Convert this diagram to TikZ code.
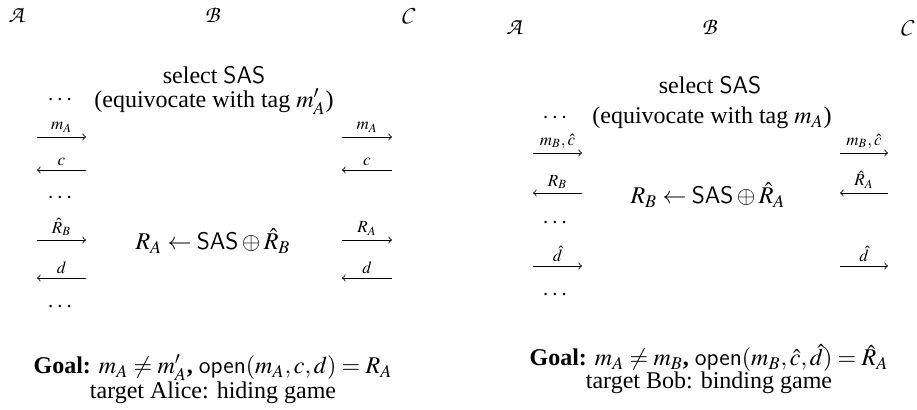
\documentclass[tikz,border=0pt]{standalone}
\usepackage{mathptmx}
\usepackage[scaled=0.92]{helvet}
\usepackage[no-math]{fontspec}
\setmainfont{Liberation Serif}
\DeclareMathAlphabet{\mathcal}{OT1}{pzc}{m}{it}
\begin{document}
\begin{tikzpicture}[x=0.5pt, y=-0.5pt, >=to, font=\large,
  msg/.style={above=1.5pt, font=\fontsize{8.5}{10}\selectfont, inner sep=0.5pt}]
  \useasboundingbox (0,0) rectangle (917,410);
  % hiding game (left)
  \node (A1) at (17,15) {$\mathcal{A}$};
  \node (B1) at (213,15) {$\mathcal{B}$};
  \node (C1) at (408,15) {$\mathcal{C}$};
  \node (sel1) at (214,75) {select $\mathsf{SAS}$};
  \node (eqv1) at (214,102) {(equivocate with tag $m'_A$)};
  \node (dots1a) at (60,100) {$\cdots$};
  \node (dots1b) at (60,198) {$\cdots$};
  \node (dots1c) at (60,307) {$\cdots$};
  \node (res1) at (213,241) {$R_A \leftarrow \mathsf{SAS} \oplus \hat{R}_B$};
  \node (goal1) at (213,368) {\textbf{Goal:} $m_A \neq m'_A$\textbf{,} $\mathsf{open}(m_A,c,d) = R_A$};
  \node (tgt1) at (213,393) {target Alice: hiding game};
  \coordinate (l1a) at (37,137);  \coordinate (l1b) at (86,137);
  \coordinate (l2a) at (37,170);  \coordinate (l2b) at (86,170);
  \coordinate (l3a) at (37,240);  \coordinate (l3b) at (86,240);
  \coordinate (l4a) at (37,278);  \coordinate (l4b) at (86,278);
  \coordinate (r1a) at (342,137); \coordinate (r1b) at (392,137);
  \coordinate (r2a) at (342,170); \coordinate (r2b) at (392,170);
  \coordinate (r3a) at (342,240); \coordinate (r3b) at (392,240);
  \coordinate (r4a) at (342,278); \coordinate (r4b) at (392,278);
  \draw[->] (l1a) -- node[msg] {$m_A$} (l1b);
  \draw[<-] (l2a) -- node[msg] {$c$} (l2b);
  \draw[->] (l3a) -- node[msg] {$\hat{R}_B$} (l3b);
  \draw[<-] (l4a) -- node[msg] {$d$} (l4b);
  \draw[->] (r1a) -- node[msg] {$m_A$} (r1b);
  \draw[<-] (r2a) -- node[msg] {$c$} (r2b);
  \draw[->] (r3a) -- node[msg] {$R_A$} (r3b);
  \draw[<-] (r4a) -- node[msg] {$d$} (r4b);
  % binding game (right)
  \node (A2) at (515,27) {$\mathcal{A}$};
  \node (B2) at (710,27) {$\mathcal{B}$};
  \node (C2) at (907,27) {$\mathcal{C}$};
  \node (sel2) at (710,85) {select $\mathsf{SAS}$};
  \node (eqv2) at (712,118) {(equivocate with tag $m_A$)};
  \node (dots2a) at (555,118) {$\cdots$};
  \node (dots2b) at (555,223) {$\cdots$};
  \node (dots2c) at (555,295) {$\cdots$};
  \node (res2) at (708,195) {$R_B \leftarrow \mathsf{SAS} \oplus \hat{R}_A$};
  \node (goal2) at (709,358) {\textbf{Goal:} $m_A \neq m_B$\textbf{,} $\mathsf{open}(m_B,\hat{c},\hat{d}) = \hat{R}_A$};
  \node (tgt2) at (709,383) {target Bob: binding game};
  \coordinate (l5a) at (533,153); \coordinate (l5b) at (582,153);
  \coordinate (l6a) at (533,193); \coordinate (l6b) at (582,193);
  \coordinate (l7a) at (533,266); \coordinate (l7b) at (582,266);
  \coordinate (r5a) at (840,153); \coordinate (r5b) at (888,153);
  \coordinate (r6a) at (840,193); \coordinate (r6b) at (888,193);
  \coordinate (r7a) at (840,266); \coordinate (r7b) at (888,266);
  \draw[->] (l5a) -- node[msg] {$m_B,\hat{c}$} (l5b);
  \draw[<-] (l6a) -- node[msg] {$R_B$} (l6b);
  \draw[->] (l7a) -- node[msg] {$\hat{d}$} (l7b);
  \draw[->] (r5a) -- node[msg] {$m_B,\hat{c}$} (r5b);
  \draw[<-] (r6a) -- node[msg] {$\hat{R}_A$} (r6b);
  \draw[->] (r7a) -- node[msg] {$\hat{d}$} (r7b);
\end{tikzpicture}
\end{document}
